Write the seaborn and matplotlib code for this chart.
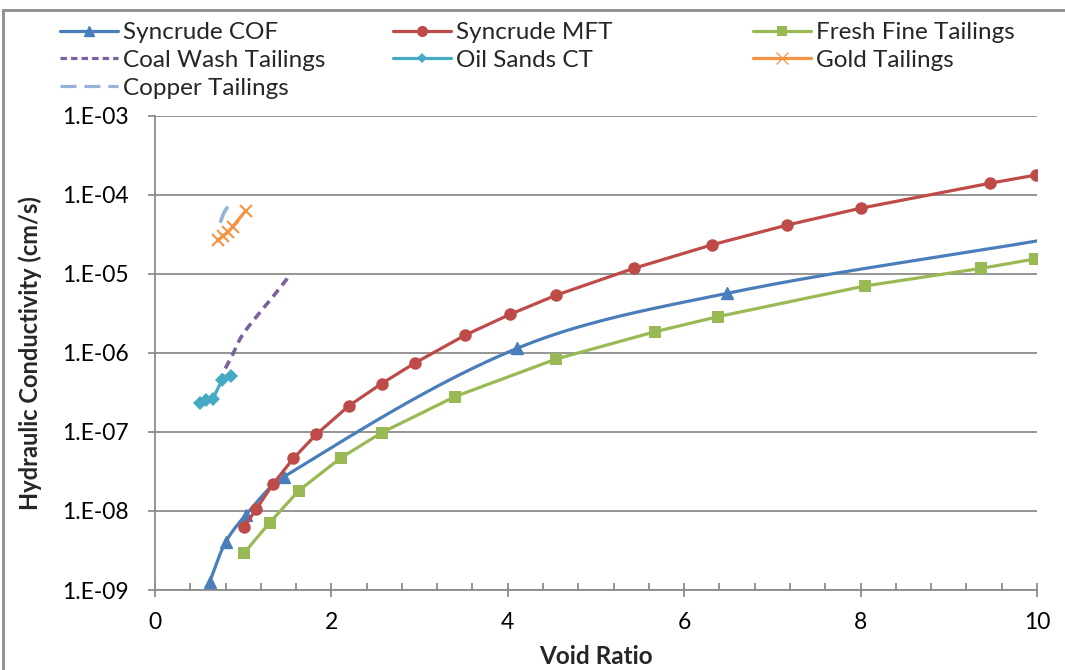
import numpy as np
import matplotlib
matplotlib.use("Agg")
import matplotlib.pyplot as plt
from matplotlib.lines import Line2D
from matplotlib.patches import Rectangle
from matplotlib.ticker import FixedLocator, MultipleLocator, FuncFormatter
import seaborn as sns

# ---------------- data ----------------
cof_x = [0.62, 0.80, 1.03, 1.46, 4.11, 6.49, 10.0]
cof_k = [1.27e-9, 4.0e-9, 8.9e-9, 2.7e-8, 1.15e-6, 5.7e-6, 2.62e-5]
cof_marked = [True, True, True, True, True, True, False]

mft_x = [1.01, 1.15, 1.34, 1.57, 1.83, 2.20, 2.57, 2.95, 3.52, 4.03, 4.55,
         5.43, 6.31, 7.17, 8.00, 9.47, 9.99]
mft_k = [6.3e-9, 1.06e-8, 2.2e-8, 4.65e-8, 9.35e-8, 2.15e-7, 4.1e-7, 7.5e-7,
         1.69e-6, 3.1e-6, 5.4e-6, 1.18e-5, 2.33e-5, 4.17e-5, 6.8e-5, 1.41e-4,
         1.79e-4]

fresh_x = [1.01, 1.30, 1.63, 2.11, 2.57, 3.40, 4.55, 5.67, 6.38, 8.05, 9.37, 9.98]
fresh_k = [2.94e-9, 7.1e-9, 1.81e-8, 4.73e-8, 9.8e-8, 2.8e-7, 8.4e-7, 1.86e-6,
           2.88e-6, 7.05e-6, 1.18e-5, 1.55e-5]

coal_x = [0.74, 0.79, 0.87, 0.98, 1.15, 1.34, 1.54]
coal_k = [4.3e-7, 6.1e-7, 9.0e-7, 1.61e-6, 2.88e-6, 5.2e-6, 1.0e-5]

ct_x = [0.505, 0.578, 0.658, 0.760, 0.862]
ct_k = [2.33e-7, 2.54e-7, 2.65e-7, 4.55e-7, 5.1e-7]

gold_x = [0.718, 0.774, 0.831, 0.881, 1.028]
gold_k = [2.69e-5, 3.03e-5, 3.43e-5, 3.97e-5, 6.3e-5]

copper_x = [0.74, 0.78, 0.85]
copper_k = [4.45e-5, 5.86e-5, 7.85e-5]

series_names = ["Syncrude COF", "Syncrude MFT", "Fresh Fine Tailings",
                "Coal Wash Tailings", "Oil Sands CT", "Gold Tailings",
                "Copper Tailings"]

y_ticks = [1e-9, 1e-8, 1e-7, 1e-6, 1e-5, 1e-4, 1e-3]
x_ticks = [0, 2, 4, 6, 8, 10]

# ---------------- style ----------------
sns.set_theme(style="white")
FONT = ["Lato", "DejaVu Sans"]
plt.rcParams["font.family"] = FONT

C_BLUE = "#4A7EBB"
C_RED = "#BE4B48"
C_GREEN = "#98B954"
C_PURPLE = "#7D60A0"
C_TEAL = "#46AAC5"
C_ORANGE = "#F69240"
C_LBLUE = "#95B3D7"
GRID = "#8C8C8C"
LW = 2.3

fig = plt.figure(figsize=(10.65, 6.70), dpi=100)
ax = fig.add_axes([0.1455, 0.1194, 0.8282, 0.7075])
ax.set_yscale("log")
ax.set_xlim(0, 10)
ax.set_ylim(1e-9, 1e-3)


def smooth(ax, xs, ys, n=40):
    """Smoothed line (Bezier with chord-scaled tangents) in display space."""
    pts = ax.transData.transform(np.column_stack([xs, ys]))
    m = len(pts)
    tang = []
    for i in range(m):
        a = pts[max(i - 1, 0)]
        b = pts[min(i + 1, m - 1)]
        d = b - a
        tang.append(d / (np.hypot(*d) + 1e-12))
    out = []
    for i in range(m - 1):
        p1, p2 = pts[i], pts[i + 1]
        L = np.hypot(*(p2 - p1))
        c1 = p1 + tang[i] * L / 3.0
        c2 = p2 - tang[i + 1] * L / 3.0
        t = np.linspace(0, 1, n)[:, None]
        seg = ((1 - t) ** 3) * p1 + 3 * ((1 - t) ** 2) * t * c1 + 3 * (1 - t) * t ** 2 * c2 + t ** 3 * p2
        out.append(seg if i == 0 else seg[1:])
    out = np.vstack(out)
    d = ax.transData.inverted().transform(out)
    return d[:, 0], d[:, 1]


# grid lines
for yv in y_ticks:
    ax.axhline(yv, color=GRID, lw=1.3, zorder=0)

# Syncrude COF (smoothed line, markers on data points)
sx, sy = smooth(ax, cof_x, cof_k)
sns.lineplot(x=sx, y=sy, ax=ax, color=C_BLUE, lw=LW, sort=False, estimator=None, zorder=3)
mx = [x for x, m in zip(cof_x, cof_marked) if m]
mk = [k for k, m in zip(cof_k, cof_marked) if m]
ax.plot(mx, mk, ls="none", marker="^", ms=9, color=C_BLUE, zorder=4)

# Syncrude MFT
sns.lineplot(x=mft_x, y=mft_k, ax=ax, color=C_RED, lw=LW, marker="o", ms=9,
             markeredgewidth=0, sort=False, estimator=None, zorder=5)
# Fresh Fine Tailings
sns.lineplot(x=fresh_x, y=fresh_k, ax=ax, color=C_GREEN, lw=LW, marker="s", ms=8.5,
             markeredgewidth=0, sort=False, estimator=None, zorder=3)
# Coal Wash Tailings (dashed)
cx, cy = smooth(ax, coal_x, coal_k)
ax.plot(cx, cy, color=C_PURPLE, lw=2.6, dashes=(2.4, 1.6), zorder=3)
# Oil Sands CT
sns.lineplot(x=ct_x, y=ct_k, ax=ax, color=C_TEAL, lw=LW, marker="D", ms=7.5,
             markeredgewidth=0, sort=False, estimator=None, zorder=4)
# Gold Tailings
sns.lineplot(x=gold_x, y=gold_k, ax=ax, color=C_ORANGE, lw=LW, marker="x", ms=9,
             markeredgewidth=1.5, markeredgecolor=C_ORANGE, sort=False,
             estimator=None, zorder=4)
# Copper Tailings
px, py = smooth(ax, copper_x, copper_k)
ax.plot(px, py, color=C_LBLUE, lw=2.6, dashes=(5.0, 2.5), zorder=3)

ax.set_xlim(0, 10)
ax.set_ylim(1e-9, 1e-3)

# axes styling
for s in ["top", "right"]:
    ax.spines[s].set_visible(False)
for s in ["left", "bottom"]:
    ax.spines[s].set_color(GRID)
    ax.spines[s].set_linewidth(1.3)
    ax.spines[s].set_visible(True)

ax.yaxis.set_major_locator(FixedLocator(y_ticks))
ax.yaxis.set_minor_locator(FixedLocator([]))
ax.yaxis.set_major_formatter(FuncFormatter(lambda v, p: "1.E%+03d" % int(round(np.log10(v)))))
ax.xaxis.set_major_locator(FixedLocator(x_ticks))
ax.xaxis.set_minor_locator(MultipleLocator(0.4))
ax.xaxis.set_major_formatter(FuncFormatter(lambda v, p: "%d" % v))

ax.tick_params(axis="y", which="major", direction="out", length=5, width=1.3,
               color=GRID, labelsize=16.5, pad=14, left=True)
ax.tick_params(axis="x", which="major", direction="inout", length=10, width=1.3,
               color=GRID, labelsize=16.5, pad=11, bottom=True)
ax.tick_params(axis="x", which="minor", direction="in", length=5, width=1.3,
               color=GRID, bottom=True)
for lab in ax.get_xticklabels() + ax.get_yticklabels():
    lab.set_color("#000000")

ax.set_xlabel("Void Ratio", fontsize=17.5, fontweight="bold")
ax.xaxis.set_label_coords(0.5, -0.115)
ax.set_ylabel("Hydraulic Conductivity (cm/s)", fontsize=17, fontweight="bold")
ax.yaxis.set_label_coords(-0.128, 0.5)
ax.grid(False)

# legend (3 columns, placed above plot)
handles = [
    Line2D([], [], color=C_BLUE, lw=LW, marker="^", ms=7),
    Line2D([], [], color=C_RED, lw=LW, marker="o", ms=8, markeredgewidth=0),
    Line2D([], [], color=C_GREEN, lw=LW, marker="s", ms=7.5, markeredgewidth=0),
    Line2D([], [], color=C_PURPLE, lw=LW, dashes=(2.0, 1.3)),
    Line2D([], [], color=C_TEAL, lw=LW, marker="D", ms=5, markeredgewidth=0),
    Line2D([], [], color=C_ORANGE, lw=LW, marker="x", ms=9, markeredgewidth=0.9),
    Line2D([], [], color=C_LBLUE, lw=LW, dashes=(5.0, 2.5)),
]
cols = [[0, 3, 6], [1, 4], [2, 5]]
col_x = [60, 393, 753]
for idx, xp in zip(cols, col_x):
    fig.legend([handles[i] for i in idx], [series_names[i] for i in idx],
               loc="upper left", bbox_to_anchor=(xp / 1065, 1 - 22 / 670),
               frameon=False, fontsize=17.5, handlelength=2.4, handletextpad=0.2,
               labelspacing=0.28, borderaxespad=0, borderpad=0)

# chart-area border (left and top visible)
fig.patches.append(Rectangle((3 / 1065, -0.05), 1.2, 0.05 + 1 - 10 / 670,
                             transform=fig.transFigure, fill=False,
                             edgecolor="#8C8C8C", lw=2, zorder=0))

fig.savefig("out.png", dpi=100)
